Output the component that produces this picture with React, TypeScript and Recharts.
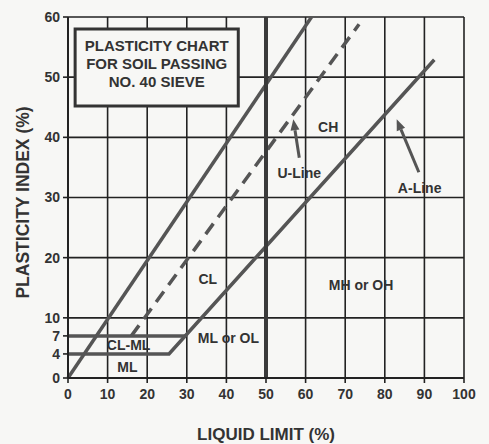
import React from 'react';
import {
  CartesianGrid,
  ComposedChart,
  Line,
  ReferenceArea,
  ReferenceDot,
  ReferenceLine,
  XAxis,
  YAxis,
} from 'recharts';

// axis ticks
const llTicks = [0, 10, 20, 30, 40, 50, 60, 70, 80, 90, 100];
const piTicks = [0, 4, 7, 10, 20, 30, 40, 50, 60];
const piGridValues = [0, 10, 20, 30, 40, 50, 60];

// boundary lines (liquid limit vs plasticity index)
const upperLine = [
  { ll: 0, pi: 0 },
  { ll: 61.5, pi: 60 },
];
const uLine = [
  { ll: 16, pi: 7 },
  { ll: 73.5, pi: 58.8 },
];
const aLine = [
  { ll: 0, pi: 4 },
  { ll: 25.5, pi: 4 },
  { ll: 92.5, pi: 52.9 },
];
const pi7Line = [
  { ll: 0, pi: 7 },
  { ll: 29.6, pi: 7 },
];
const ll50Line = [
  { ll: 50, pi: 0 },
  { ll: 50, pi: 60 },
];

// zone names and where they sit
const zoneLabels = [
  { text: 'CH', ll: 65.7, pi: 41.8 },
  { text: 'U-Line', ll: 58.4, pi: 34 },
  { text: 'A-Line', ll: 88.8, pi: 31.6 },
  { text: 'CL', ll: 35.3, pi: 16.5 },
  { text: 'MH or OH', ll: 74, pi: 15.5 },
  { text: 'ML or OL', ll: 40.5, pi: 6.7 },
  { text: 'CL-ML', ll: 15.3, pi: 5.5 },
  { text: 'ML', ll: 15, pi: 1.8 },
];

// pointer arrows: tail -> head
const uArrow = [
  { ll: 58.4, pi: 36.6 },
  { ll: 56.9, pi: 43 },
];
const aArrow = [
  { ll: 88.6, pi: 34.2 },
  { ll: 83, pi: 43 },
];

const titleLines = ['PLASTICITY CHART', 'FOR SOIL PASSING', 'NO. 40 SIEVE'];

const FONT = '"Liberation Sans", Arial, sans-serif';
const INK = '#333';
const LINE = '#555';

const Arrow = (props: any) => {
  const { x1, y1, x2, y2 } = props;
  const ang = Math.atan2(y2 - y1, x2 - x1);
  const len = 11;
  const w = 4.5;
  const bx = x2 - len * Math.cos(ang);
  const by = y2 - len * Math.sin(ang);
  const px = -Math.sin(ang) * w;
  const py = Math.cos(ang) * w;
  return (
    <g>
      <line x1={x1} y1={y1} x2={bx} y2={by} stroke={LINE} strokeWidth={3} />
      <polygon points={`${x2},${y2} ${bx + px},${by + py} ${bx - px},${by - py}`} fill={LINE} />
    </g>
  );
};

const zoneLabel = (text: string) => (props: any) => {
  const { viewBox } = props;
  const cx = viewBox.x + (viewBox.width || 0) / 2;
  const cy = viewBox.y + (viewBox.height || 0) / 2;
  return (
    <text
      x={cx}
      y={cy}
      textAnchor="middle"
      dominantBaseline="central"
      fontFamily={FONT}
      fontWeight="bold"
      fontSize={14}
      fill={INK}
    >
      {text}
    </text>
  );
};

const titleLabel = (props: any) => {
  const { viewBox } = props;
  const cx = viewBox.x + viewBox.width / 2;
  const top = viewBox.y + 22;
  return (
    <text textAnchor="middle" fontFamily={FONT} fontWeight="bold" fontSize={15} fill={INK}>
      {titleLines.map((t, i) => (
        <tspan key={t} x={cx} y={top + i * 18}>
          {t}
        </tspan>
      ))}
    </text>
  );
};

const yAxisTitle = (props: any) => {
  const { viewBox } = props;
  const x = viewBox.x + 23;
  const y = viewBox.y + viewBox.height / 2 + 5;
  return (
    <text
      x={x}
      y={y}
      transform={`rotate(-90 ${x} ${y})`}
      textAnchor="middle"
      dominantBaseline="central"
      fontFamily={FONT}
      fontWeight="bold"
      fontSize={17.5}
      fill={INK}
    >
      PLASTICITY INDEX (%)
    </text>
  );
};

const tickStyle = { fill: INK, fontSize: 14, fontWeight: 'bold', fontFamily: FONT };

const App = () => {
  return (
    <div style={{ position: 'absolute', left: 0, top: 0, width: 489, height: 444, background: '#f7f7f5' }}>
      <ComposedChart width={489} height={444} margin={{ top: 17, right: 25, bottom: 0, left: 0 }}>
        <CartesianGrid
          stroke="#222"
          strokeWidth={1.6}
          verticalValues={llTicks}
          horizontalValues={piGridValues}
        />
        <XAxis
          type="number"
          dataKey="ll"
          domain={[0, 100]}
          ticks={llTicks}
          height={66}
          axisLine={{ stroke: '#222', strokeWidth: 2 }}
          tickLine={{ stroke: '#222', strokeWidth: 1.6 }}
          tickSize={5}
          tickMargin={6}
          tick={tickStyle}
          label={{
            value: 'LIQUID LIMIT (%)',
            position: 'insideBottom',
            offset: 4,
            style: { fill: INK, fontSize: 17, fontWeight: 'bold', fontFamily: FONT },
          }}
        />
        <YAxis
          type="number"
          dataKey="pi"
          domain={[0, 60]}
          ticks={piTicks}
          width={68}
          interval={0}
          axisLine={{ stroke: '#222', strokeWidth: 2 }}
          tickLine={{ stroke: '#222', strokeWidth: 1.6 }}
          tickSize={5}
          tickMargin={3}
          tick={tickStyle}
          label={yAxisTitle}
        />
        <ReferenceArea
          x1={1.8}
          x2={43}
          y1={45.2}
          y2={58}
          fill="#f7f7f5"
          fillOpacity={1}
          stroke={INK}
          strokeWidth={3}
          label={titleLabel}
        />
        <Line data={pi7Line} dataKey="pi" stroke={LINE} strokeWidth={3.5} dot={false} isAnimationActive={false} />
        <Line data={aLine} dataKey="pi" stroke={LINE} strokeWidth={3.5} dot={false} isAnimationActive={false} />
        <Line data={upperLine} dataKey="pi" stroke={LINE} strokeWidth={3.5} dot={false} isAnimationActive={false} />
        <Line
          data={uLine}
          dataKey="pi"
          stroke={LINE}
          strokeWidth={3.5}
          strokeDasharray="13 8"
          dot={false}
          isAnimationActive={false}
        />
        <Line data={ll50Line} dataKey="pi" stroke="#3a3a3a" strokeWidth={4} dot={false} isAnimationActive={false} />
        <ReferenceLine
          segment={[
            { x: uArrow[0].ll, y: uArrow[0].pi },
            { x: uArrow[1].ll, y: uArrow[1].pi },
          ]}
          shape={Arrow}
        />
        <ReferenceLine
          segment={[
            { x: aArrow[0].ll, y: aArrow[0].pi },
            { x: aArrow[1].ll, y: aArrow[1].pi },
          ]}
          shape={Arrow}
        />
        {zoneLabels.map((z) => (
          <ReferenceDot
            key={z.text}
            x={z.ll}
            y={z.pi}
            r={0}
            fill="none"
            stroke="none"
            label={zoneLabel(z.text)}
          />
        ))}
      </ComposedChart>
    </div>
  );
};

export default App;
